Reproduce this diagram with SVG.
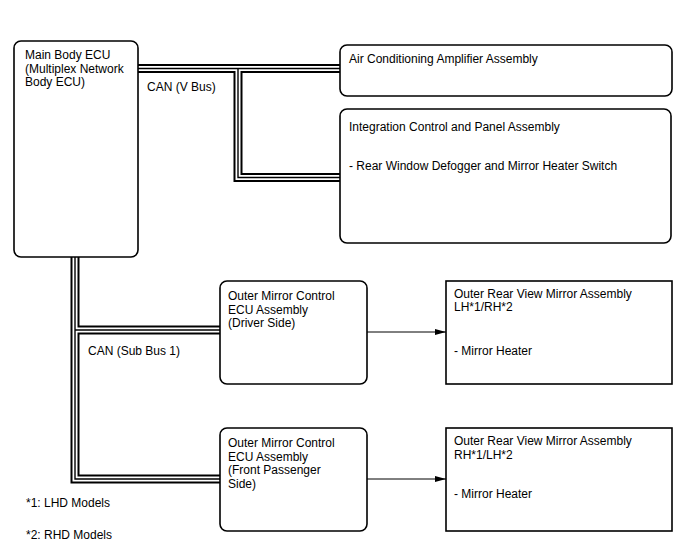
<svg xmlns="http://www.w3.org/2000/svg" width="688" height="560" viewBox="0 0 688 560">
<style>
  text { font-family: "Liberation Sans", Arial, sans-serif; font-size: 12px; fill: #000; }
  .rbox { fill: #fff; stroke: #000; stroke-width: 1.6; }
  .sbox { fill: #fff; stroke: #000; stroke-width: 1.6; }
  .busO { fill: none; stroke: #000; stroke-width: 9; stroke-linejoin: miter; }
  .busW { fill: none; stroke: #fff; stroke-width: 5; stroke-linejoin: miter; }
  .busI { fill: none; stroke: #000; stroke-width: 1.4; stroke-linejoin: miter; }
  .arrow { fill: none; stroke: #000; stroke-width: 1; marker-end: url(#ah); }
</style>
<defs>
  <marker id="ah" markerWidth="11" markerHeight="7" refX="11" refY="3.5" orient="auto" markerUnits="userSpaceOnUse">
    <path d="M0,0.5 L11,3.5 L0,6.5 Z" fill="#000"/>
  </marker>
</defs>
<rect width="688" height="560" fill="#fff"/>

<g id="connectors">
  <path class="busO" d="M138,68.5 H340 M238,68.5 V177.5 H340 M75,257 V479 H220 M75,330 H220"/>
  <path class="busW" d="M138,68.5 H340 M238,68.5 V177.5 H340 M75,257 V479 H220 M75,330 H220"/>
  <path class="busI" d="M138,68.5 H340 M238,68.5 V177.5 H340 M75,257 V479 H220 M75,330 H220"/>
  <line class="arrow" x1="367" y1="332" x2="446" y2="332"/>
  <line class="arrow" x1="367" y1="479" x2="446" y2="479"/>
  <text x="147" y="90.5">CAN (V Bus)</text>
  <text x="88" y="355">CAN (Sub Bus 1)</text>
</g>

<g id="main-body-ecu">
  <rect class="rbox" x="14" y="41" width="124" height="216" rx="7"/>
  <text x="25" y="59">Main Body ECU</text>
  <text x="25" y="72.5">(Multiplex Network</text>
  <text x="25" y="86">Body ECU)</text>
</g>

<g id="ac-amplifier">
  <rect class="rbox" x="340" y="45" width="332" height="51" rx="7"/>
  <text x="349" y="63">Air Conditioning Amplifier Assembly</text>
</g>

<g id="integration-panel">
  <rect class="rbox" x="340" y="109" width="331" height="134" rx="7"/>
  <text x="349" y="131">Integration Control and Panel Assembly</text>
  <text x="349" y="170">- Rear Window Defogger and Mirror Heater Switch</text>
</g>

<g id="outer-mirror-ecu-driver">
  <rect class="rbox" x="220" y="281" width="147" height="103" rx="7"/>
  <text x="228" y="300">Outer Mirror Control</text>
  <text x="228" y="313.5">ECU Assembly</text>
  <text x="228" y="327">(Driver Side)</text>
</g>

<g id="outer-mirror-ecu-passenger">
  <rect class="rbox" x="220" y="428" width="147" height="103" rx="7"/>
  <text x="228" y="447">Outer Mirror Control</text>
  <text x="228" y="460.5">ECU Assembly</text>
  <text x="228" y="474">(Front Passenger</text>
  <text x="228" y="487.5">Side)</text>
</g>

<g id="mirror-assembly-1">
  <rect class="sbox" x="446" y="281" width="226" height="103"/>
  <text x="454" y="297.5">Outer Rear View Mirror Assembly</text>
  <text x="454" y="311">LH*1/RH*2</text>
  <text x="454" y="354.5">- Mirror Heater</text>
</g>

<g id="mirror-assembly-2">
  <rect class="sbox" x="446" y="428" width="226" height="103"/>
  <text x="454" y="445">Outer Rear View Mirror Assembly</text>
  <text x="454" y="458.5">RH*1/LH*2</text>
  <text x="454" y="498">- Mirror Heater</text>
</g>

<g id="footnotes">
  <text x="26" y="507">*1: LHD Models</text>
  <text x="26" y="539">*2: RHD Models</text>
</g>
</svg>
